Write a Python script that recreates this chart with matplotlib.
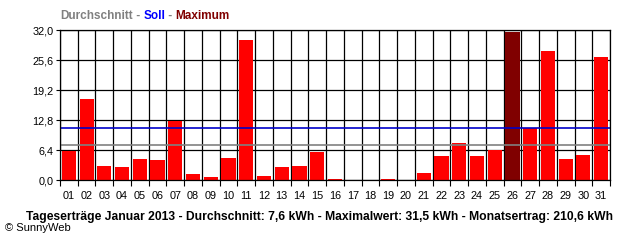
import numpy as np
import matplotlib
matplotlib.use('Agg')
import matplotlib.pyplot as plt
from matplotlib.ticker import FixedLocator, NullFormatter

plt.rcParams['font.family'] = ['Liberation Sans', 'DejaVu Sans']

# daily yield in kWh, January 2013
tage = ['%02d' % d for d in range(1, 32)]
ertrag = [6.2, 17.3, 3.0, 2.8, 4.5, 4.3, 12.6, 1.3, 0.6, 4.7,
          29.9, 0.9, 2.8, 3.0, 6.0, 0.2, 0.0, 0.0, 0.3, 0.0,
          1.5, 5.1, 7.9, 5.1, 6.4, 31.5, 11.2, 27.5, 4.5, 5.3,
          26.2]
soll = 11.2
y_ticks = [0.0, 6.4, 12.8, 19.2, 25.6, 32.0]
y_labels = ['0,0', '6,4', '12,8', '19,2', '25,6', '32,0']
unterschrift = ('Tageserträge Januar 2013 - Durchschnitt: 7,6 kWh - '
                'Maximalwert: 31,5 kWh - Monatsertrag: 210,6 kWh')


def main():
    werte = np.array(ertrag)
    x = np.arange(1, len(werte) + 1)
    durchschnitt = werte.mean()

    fig = plt.figure(figsize=(6.4, 2.4), dpi=100)
    ax = fig.add_axes([60/640, 60/240, 550/640, 150/240])

    # max day is dark red, the rest red
    farben = ['#800000' if v == werte.max() else '#ff0000' for v in werte]
    ax.bar(x, werte, width=0.8, color=farben, zorder=2)

    ax.axhline(durchschnitt, color='#808080', lw=1.2, zorder=3)
    ax.axhline(soll, color='#0000c8', lw=1.2, zorder=3)

    ax.set_xlim(0.5, len(werte) + 0.5)
    ax.set_ylim(0, 32)

    # ticks + grid on day boundaries, labels centred in the cells
    ax.xaxis.set_major_locator(FixedLocator(np.arange(0.5, len(werte) + 1)))
    ax.xaxis.set_major_formatter(NullFormatter())
    ax.xaxis.set_minor_locator(FixedLocator(x))
    ax.set_xticklabels(tage, minor=True)
    ax.tick_params(axis='x', which='major', length=4, width=0.8, color='black')
    ax.tick_params(axis='x', which='minor', length=0, pad=8, labelsize=7.8)
    ax.set_yticks(y_ticks)
    ax.set_yticklabels(y_labels)
    ax.tick_params(axis='y', length=3, width=0.8, pad=1.5, labelsize=7.8)
    ax.grid(True, which='major', color='black', lw=0.9, zorder=1)
    ax.set_axisbelow(True)
    for s in ax.spines.values():
        s.set_linewidth(0.9)
        s.set_zorder(4)

    # coloured legend line at the top
    t1 = fig.text(60/640, 1 - 16/240, 'Durchschnitt', color='#808080',
                  fontsize=8.5, fontweight='bold', va='center')
    t2 = ax.annotate(' - ', xy=(1, 0), xycoords=t1, va='bottom',
                     color='#808080', fontsize=8.5, fontweight='bold')
    t3 = ax.annotate('Soll', xy=(1, 0), xycoords=t2, va='bottom',
                     color='#0000ff', fontsize=8.5, fontweight='bold')
    t4 = ax.annotate(' - ', xy=(1, 0), xycoords=t3, va='bottom',
                     color='#808080', fontsize=8.5, fontweight='bold')
    ax.annotate('Maximum', xy=(1, 0), xycoords=t4, va='bottom',
                color='#800000', fontsize=8.5, fontweight='bold')

    fig.text(320/640, 1 - 217/240, unterschrift, ha='center', va='center',
             fontsize=8.7, fontweight='bold')
    fig.text(5/640, 1 - 228/240, '© SunnyWeb', va='center', fontsize=8)

    fig.savefig('out.png', dpi=100)


if __name__ == '__main__':
    main()
